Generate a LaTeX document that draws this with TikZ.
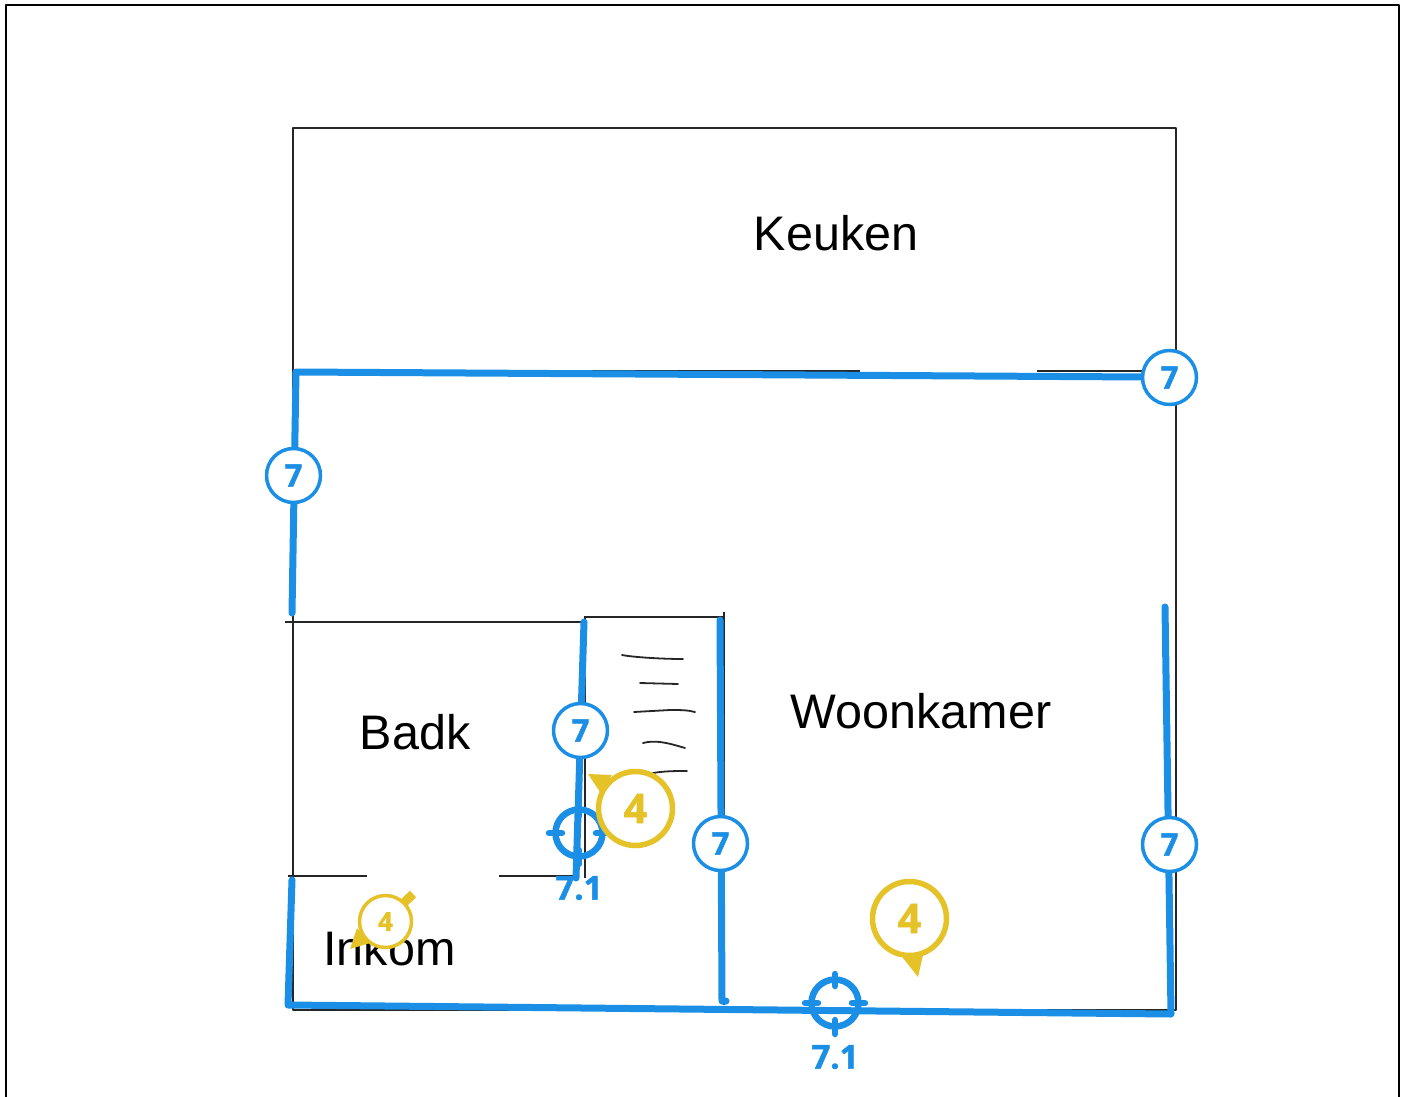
\documentclass[tikz,border=0pt]{standalone}
\usepackage{fontspec}
\setmainfont{Liberation Sans}
\newfontfamily\markfont[BoldFeatures={FakeBold=1.5}]{Open Sans}
\definecolor{planblue}{HTML}{1B8FE6}
\definecolor{pinyellow}{HTML}{E5C228}
\begin{document}
\begin{tikzpicture}[x=1pt,y=-1pt,line join=round,
		wall/.style={draw=planblue,line width=7pt,line cap=round},
		sketch/.style={draw=black!85,line width=2pt},
		scribble/.style={draw=black!85,line width=1.8pt,line cap=round},
		room/.style={anchor=base,font=\fontsize{48.5}{48}\selectfont,text=black},
		wallmark/.style={circle,draw=planblue,fill=white,line width=3.5pt,minimum size=54pt,inner sep=0pt,text=planblue,font=\markfont\bfseries\fontsize{31}{31}\selectfont},
		target/.style={draw=planblue,line width=6.5pt},
		tick/.style={draw=planblue,line width=6.5pt,line cap=round},
		targetlabel/.style={text=planblue,inner sep=0pt,font=\markfont\bfseries\fontsize{33}{33}\selectfont},
		bigpin/.style={circle,draw=pinyellow,fill=white,line width=5.5pt,minimum size=74pt,inner sep=0pt,text=pinyellow,font=\markfont\bfseries\fontsize{41}{41}\selectfont},
		smallpin/.style={circle,draw=pinyellow,fill=white,line width=3.5pt,minimum size=52pt,inner sep=0pt,text=pinyellow,font=\markfont\bfseries\fontsize{26}{26}\selectfont}]
	\useasboundingbox (0,0) rectangle (1405,1097);
	% page frame
	\draw[black,line width=2.5pt] (6,1097)--(6,5)--(1399,5)--(1399,1097);
	% sketched floor plan
	\draw[sketch] (292.5,128) rectangle (1176,1010);
	\draw[sketch] (292,370.5)--(860,370.5) (1037,370.5)--(1145,370.5);
	\draw[sketch] (285,621.5)--(583,621.5) (584,617)--(724,617);
	\draw[sketch] (585,617)--(585,878) (724,612)--(724,1005);
	\draw[sketch] (288,875.5)--(367,875.5) (499,875.5)--(575,875.5);
	% stairs
	\draw[scribble] (622,655) .. controls (632,657) and (660,659) .. (683,659);
	\draw[scribble] (640,683)--(678,684);
	\draw[scribble] (634,712)--(670,710) .. controls (680,710) and (688,710) .. (695,712);
	\draw[scribble] (643,743) .. controls (655,740) and (665,742) .. (685,748);
	\draw[scribble] (653,773) .. controls (665,771) and (675,771) .. (687,771);
	% rooms
	\node[room] (keuken) at (836,250) {Keuken};
	\node[room] (woonkamer) at (921,728.5) {Woonkamer};
	\node[room] (badk) at (415,749.5) {Badk};
	\node[room] (inkom) at (389.5,965) {Inkom};
	% blue walls
	\draw[wall] (292,613)--(296,372)--(1145,377);
	\draw[wall] (584,622)--(576,878);
	\draw[wall] (720,620)--(722,1001)--(726,1001);
	\draw[wall] (1165,607)--(1171,1014)--(288,1005)--(292,880);
	% wall marks
	\foreach \name/\px/\py in {left/293.5/475.5,right/1169.5/377.5,stair/580.5/730.5,mid/720.5/843.5,end/1169.5/844.5}
		\node[wallmark] (mark\name) at (\px,\py) {7};
	% targets
	\foreach \name/\px/\py in {a/579/833,b/835/1003}{
		\draw[target] (\px,\py) circle (23.5);
		\draw[tick] (\px-30,\py)--(\px-17,\py) (\px+17,\py)--(\px+30,\py);
		\draw[tick] (\px,\py-29)--(\px,\py-17) (\px,\py+17)--(\px,\py+31);
	}
	\node[targetlabel] (labela) at (579,888) {7.1};
	\node[targetlabel] (labelb) at (835,1057) {7.1};
	% yellow pins
	\fill[pinyellow] (588,774)--(612,775)--(600,792)--cycle;
	\node[bigpin] (pinstair) at (635.5,808.5) {4};
	\fill[pinyellow] (918,977)--(903,958)--(923,955)--cycle;
	\node[bigpin] (pinroom) at (909.5,918.5) {4};
	\fill[pinyellow] (350,949)--(357,928)--(370,943)--cycle;
	\draw[pinyellow,line width=9pt] (392,914)--(413,894);
	\node[smallpin] (pinhall) at (385.5,921.5) {4};
\end{tikzpicture}
\end{document}
